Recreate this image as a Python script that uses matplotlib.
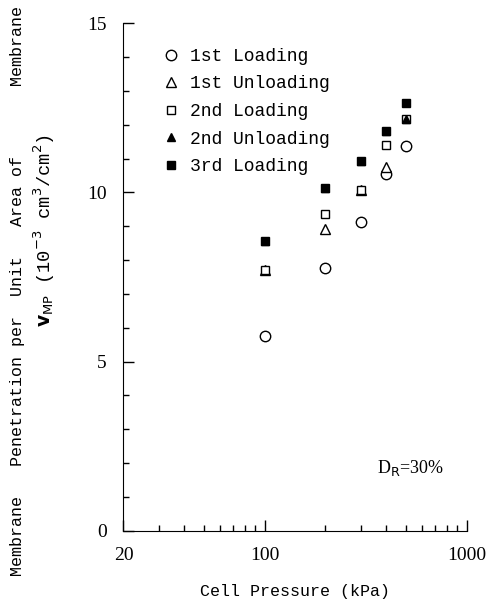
import matplotlib
matplotlib.use("Agg")
import matplotlib.pyplot as plt
from matplotlib.ticker import FixedLocator, NullFormatter

pressure = [100, 200, 300, 400, 500]

first_loading = [5.75, 7.77, 9.12, 10.55, 11.37]
first_unloading_p = [100, 200, 300, 400]
first_unloading = [7.70, 8.93, 10.06, 10.75]
second_loading = [7.72, 9.37, 10.06, 11.39, 12.17]
second_unloading = [8.56, 10.14, 10.92, 11.83, 12.17]
third_loading = [8.56, 10.14, 10.92, 11.83, 12.66]

labels = ["1st Loading", "1st Unloading", "2nd Loading", "2nd Unloading", "3rd Loading"]

mono = "Liberation Mono"
serif = "Liberation Serif"

fig = plt.figure(figsize=(4.86, 5.99), dpi=100)
ax = fig.add_axes([0.254, 0.114, 0.706, 0.847])

ax.plot(pressure, first_loading, "o", ms=7.5, mfc="white", mec="black", mew=1.0, ls="none", label=labels[0])
ax.plot(first_unloading_p, first_unloading, "^", ms=7, mfc="white", mec="black", mew=1.0, ls="none", label=labels[1])
ax.plot(pressure, second_loading, "s", ms=5.5, mfc="white", mec="black", mew=1.0, ls="none", label=labels[2])
ax.plot(pressure, second_unloading, "^", ms=6, mfc="black", mec="black", ls="none", label=labels[3])
ax.plot(pressure, third_loading, "s", ms=6, mfc="black", mec="black", ls="none", label=labels[4])

ax.set_xscale("log")
ax.set_xlim(20, 1000)
ax.set_ylim(0, 15)

ax.set_xticks([20, 100, 1000])
ax.set_xticklabels(["20", "100", "1000"])
ax.xaxis.set_minor_locator(FixedLocator([30, 40, 50, 60, 70, 80, 90, 200, 300, 400, 500, 600, 700, 800, 900]))
ax.xaxis.set_minor_formatter(NullFormatter())
ax.set_yticks([0, 5, 10, 15])
ax.yaxis.set_minor_locator(FixedLocator(range(0, 16)))

ax.tick_params(which="major", direction="in", length=8, width=1.0, labelsize=14, pad=12)
ax.tick_params(which="minor", direction="in", length=4, width=1.0)
for lab in ax.get_xticklabels() + ax.get_yticklabels():
    lab.set_fontfamily(serif)

ax.spines["top"].set_visible(False)
ax.spines["right"].set_visible(False)

ax.set_xlabel("Cell Pressure (kPa)", fontfamily=mono, fontsize=12, labelpad=14)

fig.text(0.036, 0.514, "Membrane   Penetration per  Unit   Area of       Membrane",
         rotation=90, ha="center", va="center", fontfamily=mono, fontsize=12)
fig.text(0.092, 0.616, r"$\mathbf{v}_{\mathrm{MP}}$ (10$^{-3}$ cm$^{3}$/cm$^{2}$)",
         rotation=90, ha="center", va="center", fontfamily=mono, fontsize=13.5)

ax.text(360, 1.85, r"D$_{\mathrm{R}}$=30%", fontfamily=serif, fontsize=13, ha="left", va="center")

leg = ax.legend(loc="upper left", bbox_to_anchor=(0.103, 0.966), frameon=False,
                prop={"family": mono, "size": 13}, handlelength=0.6, handletextpad=0.75,
                labelspacing=0.59, borderaxespad=0)

fig.savefig("out.png", dpi=100)
